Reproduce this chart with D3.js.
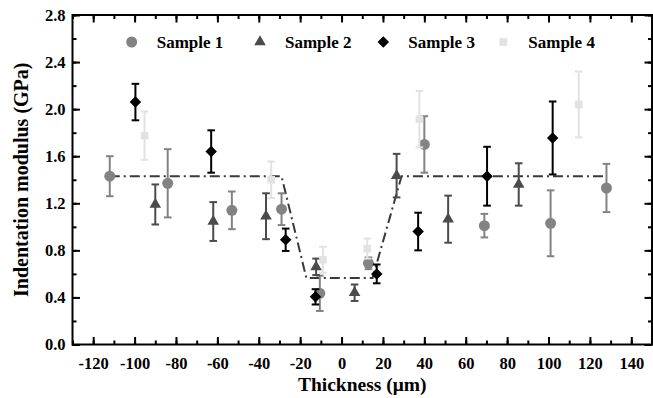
<!DOCTYPE html>
<html>
<head>
<meta charset="utf-8">
<script src="https://cdn.jsdelivr.net/npm/d3@7"></script>
<style>
	body { margin: 0; background: #fff; }
	text { font-family: "Liberation Serif", "Times New Roman", serif; font-weight: bold; fill: #000; }
</style>
</head>
<body>
<div id="chart"></div>
<script>
// data: thickness (um), modulus (GPa), error (GPa)
const sample1 = [
	[-112, 1.43, 0.17], [-84, 1.37, 0.29], [-53, 1.14, 0.16], [-29, 1.15, 0.135],
	[-10.5, 0.435, 0.15], [13, 0.69, 0.05], [40, 1.70, 0.24], [69, 1.01, 0.10],
	[101, 1.03, 0.28], [128, 1.33, 0.205]
];
const sample2 = [
	[-90, 1.19, 0.17], [-62, 1.045, 0.165], [-36.5, 1.09, 0.195], [-12.3, 0.66, 0.07],
	[6.3, 0.44, 0.07], [26.6, 1.435, 0.185], [51.5, 1.065, 0.20], [85.6, 1.36, 0.18]
];
const sample3 = [
	[-99.6, 2.06, 0.155], [-63, 1.64, 0.18], [-27, 0.89, 0.095], [-12.6, 0.405, 0.065],
	[17, 0.60, 0.08], [37, 0.96, 0.16], [70.3, 1.43, 0.25], [102, 1.755, 0.31]
];
const sample4 = [
	[-95.2, 1.775, 0.205], [-34, 1.40, 0.155], [-9, 0.72, 0.11], [12.4, 0.815, 0.085],
	[37.6, 1.915, 0.24], [114.6, 2.04, 0.28]
];
const trendLine = [[-112, 1.43], [-29, 1.43], [-17, 0.565], [15, 0.565], [29, 1.43], [128, 1.43]];
const seriesNames = ["Sample 1", "Sample 2", "Sample 3", "Sample 4"];
const xTicks = [-120, -100, -80, -60, -40, -20, 0, 20, 40, 60, 80, 100, 120, 140];
const yTicks = [0.0, 0.4, 0.8, 1.2, 1.6, 2.0, 2.4, 2.8];

const width = 653, height = 398;
const plotLeft = 72.5, plotRight = 652, plotTop = 15, plotBottom = 344.5;

const svg = d3.select("#chart").append("svg")
	.attr("width", width)
	.attr("height", height);

const x = d3.scaleLinear().domain([-130, 150]).range([plotLeft, plotRight]);
const y = d3.scaleLinear().domain([0, 2.8]).range([plotBottom, plotTop]);

const series = [
	{ name: seriesNames[0], data: sample1, color: "#838383", shape: "circle" },
	{ name: seriesNames[1], data: sample2, color: "#4b4b4b", shape: "triangle" },
	{ name: seriesNames[2], data: sample3, color: "#000000", shape: "diamond" },
	{ name: seriesNames[3], data: sample4, color: "#e2e2e2", shape: "square" }
];

const symbolPath = shape => {
	if (shape === "circle") return d3.symbol(d3.symbolCircle, 95)();
	if (shape === "triangle") return d3.symbol(d3.symbolTriangle, 58)();
	if (shape === "diamond") return d3.symbol(d3.symbolSquare, 66)();
	return d3.symbol(d3.symbolSquare, 58)();
};

// axes: major + minor ticks pointing inward on all four sides
const minorX = d3.range(-130, 151, 10);
const minorY = d3.range(0, 2.81, 0.2);

const addAxis = (axisFn, scale, ticks, minor, size, transform, labels) => {
	svg.append("g")
		.attr("transform", transform)
		.call(axisFn(scale).tickValues(minor).tickSizeInner(-4).tickSizeOuter(0).tickFormat(""))
		.call(g => g.select(".domain").remove())
		.selectAll("line").attr("stroke", "#000").attr("stroke-width", 2);
	const g = svg.append("g")
		.attr("transform", transform)
		.call(axisFn(scale).tickValues(ticks).tickSizeInner(-size).tickSizeOuter(0)
			.tickPadding(size + 6)
			.tickFormat(labels ? labels : ""));
	g.select(".domain").remove();
	g.selectAll("line").attr("stroke", "#000").attr("stroke-width", 2);
	g.selectAll("text").attr("font-size", 16.5);
	return g;
};

addAxis(d3.axisBottom, x, xTicks, minorX, 7.5, `translate(0,${plotBottom})`, d => String(d))
	.selectAll("text").attr("dy", "0.95em").attr("y", 9);
addAxis(d3.axisTop, x, xTicks, minorX, 7.5, `translate(0,${plotTop})`, null);
addAxis(d3.axisLeft, y, yTicks, minorY, 7.5, `translate(${plotLeft},0)`, d => d.toFixed(1))
	.selectAll("text").attr("x", -7);
addAxis(d3.axisRight, y, yTicks, minorY, 7.5, `translate(${plotRight},0)`, null);

svg.append("rect")
	.attr("x", plotLeft).attr("y", plotTop)
	.attr("width", plotRight - plotLeft).attr("height", plotBottom - plotTop)
	.attr("fill", "none").attr("stroke", "#000").attr("stroke-width", 2);

// dash-dot trend line
svg.append("path")
	.datum(trendLine)
	.attr("d", d3.line().x(d => x(d[0])).y(d => y(d[1])))
	.attr("fill", "none")
	.attr("stroke", "#3a3a3a")
	.attr("stroke-width", 2)
	.attr("stroke-dasharray", "10,4,2,4");

// error bars and markers
series.forEach(s => {
	const g = svg.append("g");
	const bars = g.selectAll("g.err").data(s.data).enter().append("g");
	bars.append("line")
		.attr("x1", d => x(d[0])).attr("x2", d => x(d[0]))
		.attr("y1", d => y(d[1] - d[2])).attr("y2", d => y(d[1] + d[2]));
	bars.append("line")
		.attr("x1", d => x(d[0]) - 3.8).attr("x2", d => x(d[0]) + 3.8)
		.attr("y1", d => y(d[1] + d[2])).attr("y2", d => y(d[1] + d[2]));
	bars.append("line")
		.attr("x1", d => x(d[0]) - 3.8).attr("x2", d => x(d[0]) + 3.8)
		.attr("y1", d => y(d[1] - d[2])).attr("y2", d => y(d[1] - d[2]));
	bars.selectAll("line").attr("stroke", s.color).attr("stroke-width", 2);

	g.selectAll("path.pt").data(s.data).enter().append("path")
		.attr("class", "pt")
		.attr("d", symbolPath(s.shape))
		.attr("transform", d => `translate(${x(d[0])},${y(d[1])})` + (s.shape === "diamond" ? " rotate(45)" : ""))
		.attr("fill", s.color);
});

// legend
const legendX = [131.7, 260, 383.3, 503.3];
const legend = svg.append("g").selectAll("g").data(series).enter().append("g")
	.attr("transform", (d, i) => `translate(${legendX[i]},42)`);
legend.append("path")
	.attr("d", d => symbolPath(d.shape))
	.attr("transform", d => d.shape === "diamond" ? "rotate(45)" : null)
	.attr("fill", d => d.color);
legend.append("text")
	.attr("x", 25).attr("y", 5.8)
	.attr("font-size", 17)
	.text(d => d.name);

// axis titles
svg.append("text")
	.attr("x", (plotLeft + plotRight) / 2).attr("y", 391)
	.attr("text-anchor", "middle")
	.attr("font-size", 19.5)
	.text("Thickness (μm)");
svg.append("text")
	.attr("transform", `translate(28,${(plotTop + plotBottom) / 2}) rotate(-90)`)
	.attr("text-anchor", "middle")
	.attr("font-size", 20)
	.text("Indentation modulus (GPa)");
</script>
</body>
</html>
